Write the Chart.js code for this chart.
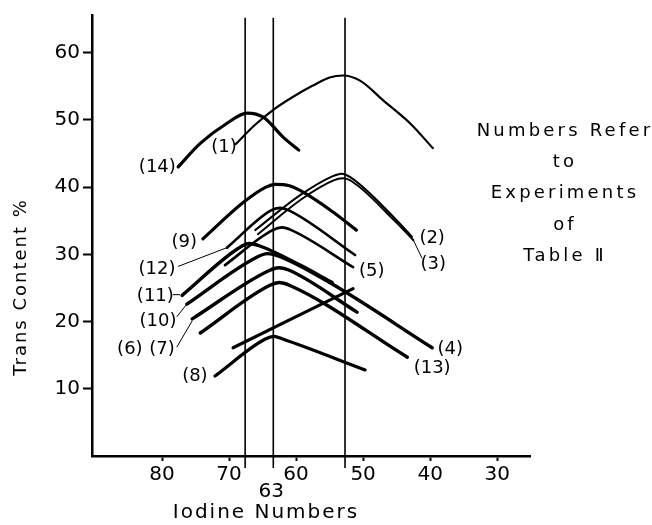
<!DOCTYPE html>
<html>
<head>
<meta charset="utf-8">
<script src="https://cdn.jsdelivr.net/npm/chart.js@4.4.1/dist/chart.umd.min.js"></script>
<style>
  html, body { margin: 0; padding: 0; background: #fff; }
</style>
</head>
<body>
<canvas id="chart" width="652" height="525"></canvas>
<script>
// axis ticks
const xTicks = [80, 70, 60, 50, 40, 30];
const yTicks = [10, 20, 30, 40, 50, 60];

// vertical reference lines (iodine numbers)
const markers = [67.6, 63.4, 52.7];

// curves: [iodine number, trans %]
const exp1 = [[69.0, 46.4], [66.2, 49.2], [63.4, 51.5], [60.5, 53.4], [57.5, 55.1], [55.0, 56.3], [53.0, 56.6], [50.4, 55.8], [47.0, 52.9], [43.0, 49.5], [39.6, 45.8]];
const exp2 = [[66.1, 33.6], [59.4, 38.8], [54.6, 41.6], [53.2, 42.0], [51.8, 41.4], [45.5, 35.6], [42.7, 32.6]];
const exp3 = [[65.7, 33.0], [59.2, 38.2], [54.4, 41.0], [53.0, 41.3], [51.6, 40.8], [45.4, 35.1], [42.5, 32.1]];
const exp5 = [[70.6, 28.4], [63.5, 33.6], [62.1, 34.0], [60.7, 33.6], [51.5, 28.1]];
const exp8 = [[72.1, 11.9], [64.6, 17.4], [63.3, 17.8], [62.0, 17.4], [49.7, 12.8]];
const exp9 = [[73.9, 32.3], [67.9, 37.7], [64.5, 40.0], [63.1, 40.4], [61.0, 40.2], [59.4, 39.5], [54.5, 36.3], [51.0, 33.6]];
const exp12 = [[70.3, 31.0], [63.8, 36.5], [62.4, 36.9], [61.0, 36.5], [51.2, 29.9]];
const exp14 = [[77.6, 43.0], [74.3, 46.5], [70.3, 49.5], [67.3, 51.0], [64.9, 50.4], [61.9, 47.4], [59.6, 45.5]];
const exp11 = [[77.0, 23.9], [68.6, 30.9], [67.0, 31.6], [65.3, 31.2], [59.4, 28.4], [54.6, 25.8]];
const exp10 = [[76.3, 22.6], [65.8, 29.6], [64.3, 30.1], [62.8, 29.8], [55.0, 25.8], [39.7, 16.1]];
const exp7 = [[75.5, 20.4], [64.0, 27.6], [62.6, 28.0], [61.2, 27.7], [50.9, 21.4]];
const exp6 = [[74.3, 18.3], [63.9, 25.4], [62.5, 25.8], [61.0, 25.4], [43.4, 14.7]];
const exp13 = [[69.4, 16.1], [51.5, 24.9]];

// leader lines from labels to curves
const leaders = [
  [[77.6, 28.2], [70.3, 31.0]],
  [[78.4, 24.0], [77.3, 24.0]],
  [[77.8, 20.7], [76.3, 22.6]],
  [[77.8, 16.2], [75.5, 20.1]],
  [[42.5, 32.1], [41.2, 29.4]]
];

// curve labels
const labelText = ['(1)', '(2)', '(3)', '(4)', '(5)', '(6)', '(7)', '(8)', '(9)', '(10)', '(11)', '(12)', '(13)', '(14)'];
const labelAt = [[70.75, 45.9], [39.7, 32.4], [39.55, 28.5], [37.0, 15.8], [48.7, 27.5], [84.8, 15.9], [80.0, 15.9],
  [75.1, 11.8], [76.7, 31.8], [80.6, 20.0], [81.0, 23.8], [80.75, 27.8], [39.7, 13.1], [80.7, 42.9]];

const noteLines = ['Numbers Refer', 'to', 'Experiments', 'of', 'Table Ⅱ'];

const FONT = '"DejaVu Sans", sans-serif';
const pts = a => a.map(p => ({ x: p[0], y: p[1] }));

const curve = (d, w) => ({
  data: pts(d), borderColor: '#000', borderWidth: w, pointRadius: 0,
  cubicInterpolationMode: 'monotone', fill: false,
  borderCapStyle: 'round', borderJoinStyle: 'round'
});

const datasets = [
  curve(exp1, 2.2), curve(exp2, 2), curve(exp3, 2), curve(exp14, 3.2), curve(exp9, 3.2),
  curve(exp12, 2.7), curve(exp5, 2.7), curve(exp11, 3.4), curve(exp10, 3.4),
  curve(exp7, 3.4), curve(exp6, 3.4), curve(exp13, 3.2), curve(exp8, 3.2)
];
markers.forEach(m => datasets.push({
  data: pts([[m, 65.2], [m, -1.8]]), borderColor: '#000', borderWidth: 1.6,
  pointRadius: 0, clip: false
}));
leaders.forEach(l => datasets.push({
  data: pts(l), borderColor: '#000', borderWidth: 1, pointRadius: 0, clip: false
}));

const texts = {
  id: 'texts',
  afterDatasetsDraw(chart) {
    const { ctx, scales: { x, y } } = chart;
    ctx.save();
    ctx.fillStyle = '#000';
    ctx.textAlign = 'center';
    ctx.textBaseline = 'middle';

    ctx.font = '18px ' + FONT;
    labelText.forEach((t, i) => {
      ctx.fillText(t, x.getPixelForValue(labelAt[i][0]), y.getPixelForValue(labelAt[i][1]));
    });

    ctx.font = '18px ' + FONT;
    ctx.letterSpacing = '3.2px';
    noteLines.forEach((t, i) => ctx.fillText(t, 565, 131 + i * 31.3));

    ctx.font = '20px ' + FONT;
    ctx.letterSpacing = '0px';
    ctx.fillText('63', x.getPixelForValue(markers[1]) - 2, 492);

    ctx.letterSpacing = '2px';
    ctx.fillText('Iodine Numbers', 266, 513);

    ctx.font = '18px ' + FONT;
    ctx.translate(21, 287);
    ctx.rotate(-Math.PI / 2);
    ctx.fillText('Trans Content %', 0, 0);
    ctx.restore();
  }
};

new Chart(document.getElementById('chart').getContext('2d'), {
  type: 'line',
  data: { datasets },
  options: {
    responsive: false,
    animation: false,
    layout: { padding: { top: 14, right: 122, left: 0, bottom: 0 } },
    plugins: { legend: { display: false }, tooltip: { enabled: false } },
    scales: {
      x: {
        type: 'linear', reverse: true, min: 25.1, max: 90.45,
        afterBuildTicks: s => { s.ticks = xTicks.map(v => ({ value: v })); },
        afterFit: s => { s.height = 69; },
        grid: { drawOnChartArea: false, drawTicks: true, tickLength: 5, tickColor: '#000', tickWidth: 2 },
        border: { color: '#000', width: 2.5 },
        ticks: { color: '#000', font: { family: FONT, size: 20 }, padding: 2, maxRotation: 0, autoSkip: false }
      },
      y: {
        type: 'linear', min: 0, max: 65.6,
        afterBuildTicks: s => { s.ticks = yTicks.map(v => ({ value: v })); },
        afterFit: s => { s.width = 92; },
        grid: { drawOnChartArea: false, drawTicks: true, tickLength: 9, tickColor: '#000', tickWidth: 2 },
        border: { color: '#000', width: 2.5 },
        ticks: { color: '#000', font: { family: FONT, size: 20 }, padding: 3, autoSkip: false }
      }
    }
  },
  plugins: [texts]
});
</script>
</body>
</html>
